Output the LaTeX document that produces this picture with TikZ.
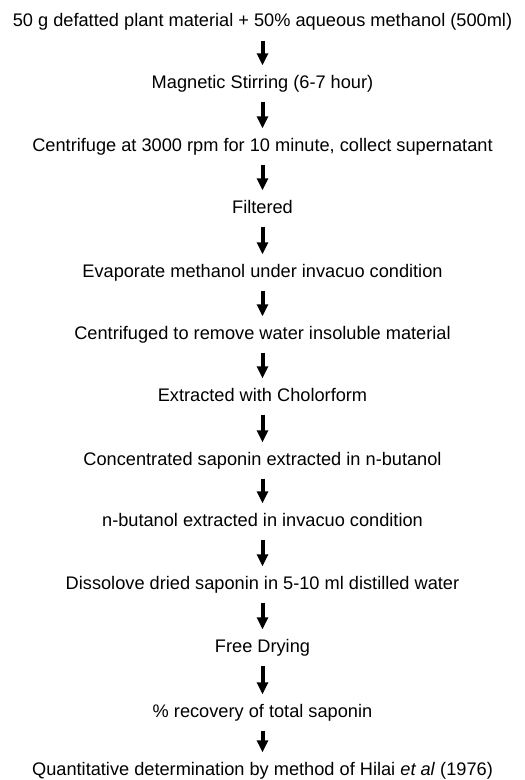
\documentclass[tikz,border=0pt]{standalone}
\usepackage{fontspec}
\setmainfont{Liberation Sans}
\usetikzlibrary{arrows.meta}
\begin{document}
\begin{tikzpicture}[x=1bp,y=-1bp,
  stepnode/.style={anchor=base, inner sep=0pt, text height=13bp, text depth=4bp,
    font=\fontsize{18.2bp}{22bp}\selectfont},
  flow/.style={line width=4bp, -{Triangle[length=12bp,width=11bp]},
    shorten <=9.5bp, shorten >=9.5bp}]
\useasboundingbox (0,0) rectangle (525,780);
\node[stepnode] (s1) at (262.5,27) {50 g defatted plant material + 50\% aqueous methanol (500ml)};
\node[stepnode] (s2) at (262.5,88) {Magnetic Stirring (6-7 hour)};
\node[stepnode] (s3) at (262.5,151) {Centrifuge at 3000 rpm for 10 minute, collect supernatant};
\node[stepnode] (s4) at (262.5,213) {Filtered};
\node[stepnode] (s5) at (262.5,277) {Evaporate methanol under invacuo condition};
\node[stepnode] (s6) at (262.5,339) {Centrifuged to remove water insoluble material};
\node[stepnode] (s7) at (262.5,401) {Extracted with Cholorform};
\node[stepnode] (s8) at (262.5,465) {Concentrated saponin extracted in n-butanol};
\node[stepnode] (s9) at (262.5,526) {n-butanol extracted in invacuo condition};
\node[stepnode] (s10) at (262.5,589) {Dissolove dried saponin in 5-10 ml distilled water};
\node[stepnode] (s11) at (262.5,652) {Free Drying};
\node[stepnode] (s12) at (262.5,717) {\% recovery of total saponin};
\node[stepnode] (s13) at (262.5,775) {Quantitative determination by method of Hilai \textit{et al} (1976)};
\foreach \i [evaluate=\i as \j using int(\i+1)] in {1,...,12}
  \draw[flow] (s\i) -- (s\j);
\end{tikzpicture}
\end{document}
